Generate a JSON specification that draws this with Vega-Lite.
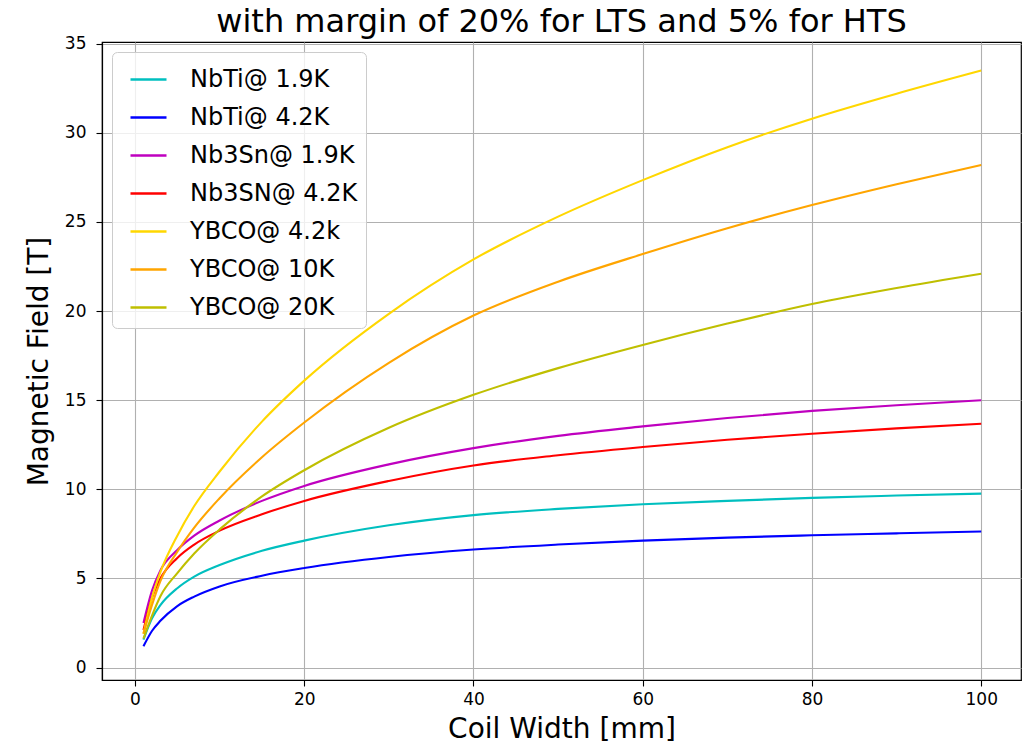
{
  "$schema": "https://vega.github.io/schema/vega-lite/v6.json",
  "width": 919,
  "height": 638,
  "autosize": "none",
  "padding": {"left": 102, "top": 42, "right": 15, "bottom": 65},
  "background": "white",
  "title": {"text": "with margin of 20% for LTS and 5% for HTS", "fontSize": 32, "font": "DejaVu Sans", "fontWeight": "normal", "color": "black", "offset": -4, "anchor": "middle"},
  "config": {
    "view": {"stroke": "black", "strokeWidth": 1.2},
    "axis": {
      "domainColor": "black", "domainWidth": 1.2, "tickColor": "black", "tickSize": 6, "tickWidth": 1.1,
      "labelFont": "DejaVu Sans", "labelFontSize": 17, "labelColor": "black",
      "titleFont": "DejaVu Sans", "titleFontSize": 28, "titleFontWeight": "normal", "titleColor": "black",
      "gridColor": "#b0b0b0", "gridWidth": 1.1
    },
    "legend": {
      "labelFont": "DejaVu Sans", "labelFontSize": 24, "labelColor": "black"
    }
  },
  "data": {"values": [
    {"s":"NbTi@ 1.9K","w":1,"B":1.57},{"s":"NbTi@ 1.9K","w":2,"B":2.75},{"s":"NbTi@ 1.9K","w":3,"B":3.5},{"s":"NbTi@ 1.9K","w":5,"B":4.45},{"s":"NbTi@ 1.9K","w":7,"B":5.1},{"s":"NbTi@ 1.9K","w":10,"B":5.75},{"s":"NbTi@ 1.9K","w":15,"B":6.55},{"s":"NbTi@ 1.9K","w":20,"B":7.12},{"s":"NbTi@ 1.9K","w":30,"B":7.98},{"s":"NbTi@ 1.9K","w":40,"B":8.55},{"s":"NbTi@ 1.9K","w":50,"B":8.9},{"s":"NbTi@ 1.9K","w":60,"B":9.16},{"s":"NbTi@ 1.9K","w":70,"B":9.35},{"s":"NbTi@ 1.9K","w":80,"B":9.52},{"s":"NbTi@ 1.9K","w":90,"B":9.65},{"s":"NbTi@ 1.9K","w":100,"B":9.76},
    {"s":"NbTi@ 4.2K","w":1,"B":1.19},{"s":"NbTi@ 4.2K","w":2,"B":2.05},{"s":"NbTi@ 4.2K","w":3,"B":2.62},{"s":"NbTi@ 4.2K","w":5,"B":3.45},{"s":"NbTi@ 4.2K","w":7,"B":3.98},{"s":"NbTi@ 4.2K","w":10,"B":4.55},{"s":"NbTi@ 4.2K","w":15,"B":5.15},{"s":"NbTi@ 4.2K","w":20,"B":5.58},{"s":"NbTi@ 4.2K","w":30,"B":6.2},{"s":"NbTi@ 4.2K","w":40,"B":6.62},{"s":"NbTi@ 4.2K","w":50,"B":6.9},{"s":"NbTi@ 4.2K","w":60,"B":7.12},{"s":"NbTi@ 4.2K","w":70,"B":7.29},{"s":"NbTi@ 4.2K","w":80,"B":7.42},{"s":"NbTi@ 4.2K","w":90,"B":7.53},{"s":"NbTi@ 4.2K","w":100,"B":7.63},
    {"s":"Nb3Sn@ 1.9K","w":1,"B":2.5},{"s":"Nb3Sn@ 1.9K","w":2,"B":4.3},{"s":"Nb3Sn@ 1.9K","w":3,"B":5.45},{"s":"Nb3Sn@ 1.9K","w":5,"B":6.6},{"s":"Nb3Sn@ 1.9K","w":7,"B":7.4},{"s":"Nb3Sn@ 1.9K","w":10,"B":8.25},{"s":"Nb3Sn@ 1.9K","w":15,"B":9.35},{"s":"Nb3Sn@ 1.9K","w":20,"B":10.19},{"s":"Nb3Sn@ 1.9K","w":30,"B":11.4},{"s":"Nb3Sn@ 1.9K","w":40,"B":12.31},{"s":"Nb3Sn@ 1.9K","w":50,"B":13.0},{"s":"Nb3Sn@ 1.9K","w":60,"B":13.53},{"s":"Nb3Sn@ 1.9K","w":70,"B":14.0},{"s":"Nb3Sn@ 1.9K","w":80,"B":14.4},{"s":"Nb3Sn@ 1.9K","w":90,"B":14.72},{"s":"Nb3Sn@ 1.9K","w":100,"B":15.0},
    {"s":"Nb3SN@ 4.2K","w":1,"B":2.1},{"s":"Nb3SN@ 4.2K","w":2,"B":3.9},{"s":"Nb3SN@ 4.2K","w":3,"B":5.0},{"s":"Nb3SN@ 4.2K","w":5,"B":6.15},{"s":"Nb3SN@ 4.2K","w":7,"B":6.9},{"s":"Nb3SN@ 4.2K","w":10,"B":7.68},{"s":"Nb3SN@ 4.2K","w":15,"B":8.6},{"s":"Nb3SN@ 4.2K","w":20,"B":9.35},{"s":"Nb3SN@ 4.2K","w":30,"B":10.47},{"s":"Nb3SN@ 4.2K","w":40,"B":11.34},{"s":"Nb3SN@ 4.2K","w":50,"B":11.91},{"s":"Nb3SN@ 4.2K","w":60,"B":12.37},{"s":"Nb3SN@ 4.2K","w":70,"B":12.78},{"s":"Nb3SN@ 4.2K","w":80,"B":13.12},{"s":"Nb3SN@ 4.2K","w":90,"B":13.42},{"s":"Nb3SN@ 4.2K","w":100,"B":13.68},
    {"s":"YBCO@ 4.2k","w":1,"B":1.9},{"s":"YBCO@ 4.2k","w":2,"B":3.9},{"s":"YBCO@ 4.2k","w":3,"B":5.35},{"s":"YBCO@ 4.2k","w":5,"B":7.4},{"s":"YBCO@ 4.2k","w":7,"B":9.06},{"s":"YBCO@ 4.2k","w":10,"B":11.0},{"s":"YBCO@ 4.2k","w":15,"B":13.8},{"s":"YBCO@ 4.2k","w":20,"B":16.1},{"s":"YBCO@ 4.2k","w":30,"B":19.85},{"s":"YBCO@ 4.2k","w":40,"B":22.9},{"s":"YBCO@ 4.2k","w":50,"B":25.3},{"s":"YBCO@ 4.2k","w":60,"B":27.35},{"s":"YBCO@ 4.2k","w":70,"B":29.2},{"s":"YBCO@ 4.2k","w":80,"B":30.8},{"s":"YBCO@ 4.2k","w":90,"B":32.2},{"s":"YBCO@ 4.2k","w":100,"B":33.5},
    {"s":"YBCO@ 10K","w":1,"B":1.9},{"s":"YBCO@ 10K","w":2,"B":3.5},{"s":"YBCO@ 10K","w":3,"B":4.85},{"s":"YBCO@ 10K","w":5,"B":6.5},{"s":"YBCO@ 10K","w":7,"B":7.85},{"s":"YBCO@ 10K","w":10,"B":9.5},{"s":"YBCO@ 10K","w":15,"B":11.8},{"s":"YBCO@ 10K","w":20,"B":13.75},{"s":"YBCO@ 10K","w":30,"B":17.1},{"s":"YBCO@ 10K","w":40,"B":19.75},{"s":"YBCO@ 10K","w":50,"B":21.65},{"s":"YBCO@ 10K","w":60,"B":23.2},{"s":"YBCO@ 10K","w":70,"B":24.65},{"s":"YBCO@ 10K","w":80,"B":25.95},{"s":"YBCO@ 10K","w":90,"B":27.12},{"s":"YBCO@ 10K","w":100,"B":28.2},
    {"s":"YBCO@ 20K","w":1,"B":1.62},{"s":"YBCO@ 20K","w":2,"B":2.9},{"s":"YBCO@ 20K","w":3,"B":4.0},{"s":"YBCO@ 20K","w":5,"B":5.3},{"s":"YBCO@ 20K","w":7,"B":6.4},{"s":"YBCO@ 20K","w":10,"B":7.75},{"s":"YBCO@ 20K","w":15,"B":9.6},{"s":"YBCO@ 20K","w":20,"B":11.07},{"s":"YBCO@ 20K","w":30,"B":13.45},{"s":"YBCO@ 20K","w":40,"B":15.3},{"s":"YBCO@ 20K","w":50,"B":16.8},{"s":"YBCO@ 20K","w":60,"B":18.1},{"s":"YBCO@ 20K","w":70,"B":19.3},{"s":"YBCO@ 20K","w":80,"B":20.4},{"s":"YBCO@ 20K","w":90,"B":21.3},{"s":"YBCO@ 20K","w":100,"B":22.1}
  ]},
  "mark": {"type": "line", "strokeWidth": 2.1, "interpolate": "monotone", "clip": true},
  "encoding": {
    "x": {"field": "w", "type": "quantitative",
      "scale": {"domain": [-3.9, 104.7], "nice": false, "zero": false},
      "axis": {"values": [0, 20, 40, 60, 80, 100], "title": "Coil Width [mm]", "labelPadding": 5, "titlePadding": 8}},
    "y": {"field": "B", "type": "quantitative",
      "scale": {"domain": [-0.7, 35.1], "nice": false, "zero": false},
      "axis": {"values": [0, 5, 10, 15, 20, 25, 30, 35], "title": "Magnetic Field [T]", "labelPadding": 10, "titlePadding": 11}},
    "color": {"field": "s", "type": "nominal",
      "scale": {
        "domain": ["NbTi@ 1.9K", "NbTi@ 4.2K", "Nb3Sn@ 1.9K", "Nb3SN@ 4.2K", "YBCO@ 4.2k", "YBCO@ 10K", "YBCO@ 20K"],
        "range": ["#00bfbf", "#0000ff", "#bf00bf", "#ff0000", "#ffd700", "#ffa500", "#bfbf00"]
      },
      "legend": {
        "title": null, "orient": "top-left", "offset": 10,
        "symbolType": "stroke", "symbolSize": 1296, "symbolStrokeWidth": 2.5,
        "symbolOffset": 9, "labelOffset": 22, "rowPadding": 6, "padding": 8,
        "fillColor": "rgba(255,255,255,0.8)", "strokeColor": "#cccccc", "cornerRadius": 5,
        "labelLimit": 400
      }
    }
  }
}
